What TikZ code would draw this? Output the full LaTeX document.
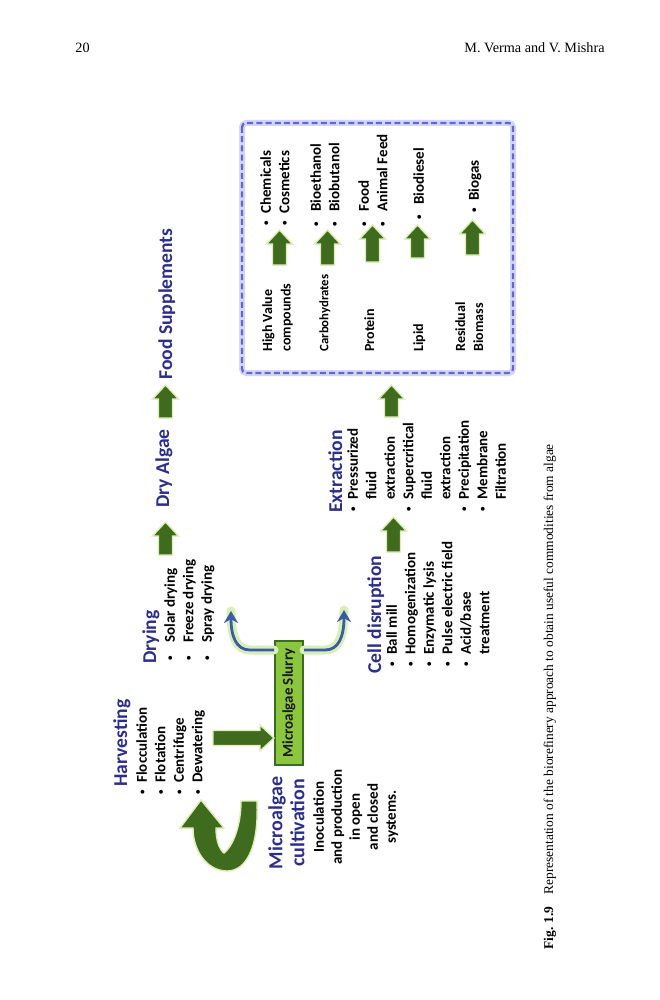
\documentclass[tikz,border=0pt]{standalone}
\usepackage{fontspec}
\setmainfont{Carlito}
\newfontfamily\capfont{Liberation Serif}
\usetikzlibrary{calc,arrows.meta}

\definecolor{headblue}{HTML}{2B2E8C}
\definecolor{agreen}{HTML}{3F6B1F}
\definecolor{aglow}{HTML}{DDEFB5}
\definecolor{slurryfill}{HTML}{8CC63F}
\definecolor{slurryline}{HTML}{3A6B1E}
\definecolor{curveblue}{HTML}{3B5BA5}
\definecolor{curveglow}{HTML}{D8EFB8}
\definecolor{boxblue}{HTML}{6464DC}
\definecolor{boxglow}{HTML}{D3D7F7}

\tikzset{
  heading/.style={rotate=90, anchor=north west, inner sep=0pt, text=headblue,
    font=\fontsize{9.8}{11.5}\selectfont\bfseries, align=left},
  items/.style={rotate=90, anchor=north west, inner sep=0pt, text=black,
    font=\fontsize{7.5}{9.25}\selectfont\bfseries, align=left},
  cat/.style={rotate=90, anchor=north west, inner sep=0pt, text=black,
    font=\fontsize{7.0}{9.25}\selectfont\bfseries, align=left},
  garrow/.style={fill=agreen, draw=aglow, line width=0.7pt},
  curveglowline/.style={draw=curveglow, line width=4.5pt, line cap=round},
  curveline/.style={draw=curveblue, line width=1.4pt, -{Stealth[length=6pt,width=7pt]}},
  slurrybox/.style={rotate=90, draw=slurryline, fill=slurryfill, line width=1pt,
    minimum width=62pt, minimum height=14pt, inner sep=0pt,
    font=\fontsize{7.5}{9}\selectfont\bfseries, text=black!90},
  capstyle/.style={inner sep=0pt, font=\capfont\fontsize{7.1}{8.5}\selectfont}
}

\newcommand{\dotb}{\raisebox{0.13em}{\fontsize{4.5}{5}\selectfont\textbullet}}
\newcommand{\bl}{\makebox[0.8em][l]{\dotb}}
\newcommand{\blw}{\makebox[1.2em][l]{\dotb}}
\newcommand{\bk}{\makebox[1.0em][l]{\dotb}}
\newcommand{\bw}{\hspace*{0.8em}}
\newcommand{\uparr}[3]{%
  \path[garrow] ({#1-7},{#3}) -- ({#1-7},{#2+14}) -- ({#1-13},{#2+14}) -- ({#1},{#2})
     -- ({#1+13},{#2+14}) -- ({#1+7},{#2+14}) -- ({#1+7},{#3}) -- cycle;}

\begin{document}
\begin{tikzpicture}[x=0.5pt,y=-0.5pt]
\useasboundingbox (0,0) rectangle (659,1000);
\fill[white] (0,0) rectangle (659,1000);

% page header
\node[capstyle, anchor=base west] (pg) at (75,53) {20};
\node[capstyle, anchor=base east] (auth) at (605,53) {M. Verma and V. Mishra};

% caption
\node[capstyle, rotate=90, anchor=base west, font=\capfont\fontsize{6.7}{8}\selectfont] (cap) at (553,950)
  {\textbf{Fig. 1.9}\hspace{0.9em}Representation of the biorefinery approach to obtain useful commodities from algae};

% headings and lists
\node[heading] (harv) at (113,787) {Harvesting};
\node[items] (harvl) at (136,795) {\bl Flocculation\\\bl Flotation\\\bl Centrifuge\\\bl Dewatering};

\node[heading] (dry) at (142,664) {Drying};
\node[items] (dryl) at (164,661) {\blw Solar drying\\\blw Freeze drying\\\blw Spray drying};

\node[heading] (dalg) at (155,508) {Dry Algae};
\node[heading] (food) at (158,380) {Food Supplements};

\node[heading] (cell) at (367,674) {Cell disruption};
\node[items] (celll) at (386,667) {\bl Ball mill\\\bl Homogenization\\\bl Enzymatic lysis\\\bl Pulse electric field\\\bl Acid/base\\\bw treatment};

\node[heading] (ext) at (328,513) {Extraction};
\node[items] (extl) at (347,512) {\bl Pressurized\\\bw fluid\\\bw extraction\\\bl Supercritical\\\bw fluid\\\bw extraction\\\bl Precipitation\\\bl Membrane\\\bw Filtration};

\node[rotate=90, anchor=north, inner sep=0pt, text=headblue, font=\fontsize{10}{11}\selectfont\bfseries, align=center] (micro) at (268,823) {Microalgae\\cultivation};
\node[rotate=90, anchor=north, inner sep=0pt, font=\fontsize{7.5}{9}\selectfont\bfseries, align=center] (microl) at (313,817) {Inoculation\\and production\\in open\\and closed\\systems.};

% slurry box
\node[slurrybox] (slurry) at (289,703) {Microalgae Slurry};

% harvesting -> slurry arrow
\path[garrow] (213,730.5) -- (260,730.5) -- (260,725) -- (274,738) -- (260,751) -- (260,745.5) -- (213,745.5) -- cycle;

% U-shaped cultivation arrow
\path[garrow] (257,801) .. controls (259,848) and (246,871) .. (227,871)
   .. controls (208,871) and (193,852) .. (193,828) -- (180,828) -- (201,800) -- (224,828) -- (216,828)
   .. controls (216,840) and (219,849) .. (224,853)
   .. controls (233,846) and (241,826) .. (241,801) -- cycle;

% blue curved arrows from slurry
\coordinate (tipL) at (231,611);
\coordinate (tipR) at (344,610);
\draw[curveglowline] ([yshift=-5pt]slurry.north east) -- (250,650) .. controls (236,650) and (231,636) .. (tipL);
\draw[curveglowline] ([yshift=-5pt]slurry.south east) -- (325,650) .. controls (339,650) and (344,636) .. (tipR);
\draw[curveline] ([yshift=-5pt]slurry.north east) -- (250,650) .. controls (236,650) and (231,636) .. (tipL);
\draw[curveline] ([yshift=-5pt]slurry.south east) -- (325,650) .. controls (339,650) and (344,636) .. (tipR);

% main green arrows
\uparr{165.5}{522}{555}
\uparr{165.5}{385}{418}
\uparr{393.5}{517}{552}
\uparr{391.5}{385}{417}

% products box
\draw[boxglow, line width=3pt, rounded corners=2pt] (242,123) rectangle (513,373);
\draw[boxblue, line width=1.1pt, dash pattern=on 3pt off 1.6pt, rounded corners=2pt] (242,123) rectangle (513,373);

\node[cat] (hv) at (262,352) {High Value\\compounds};
\node[cat, font=\fontsize{6.4}{8}\selectfont\bfseries] (carb) at (319,352) {Carbohydrates};
\node[cat] (prot) at (364,352) {Protein};
\node[cat] (lip) at (413,352) {Lipid};
\node[cat, font=\fontsize{7.0}{9}\selectfont\bfseries] (res) at (455,352) {Residual\\Biomass};

\uparr{279.5}{230}{265}
\uparr{327.5}{230}{265}
\uparr{372.5}{225}{262}
\uparr{417.5}{225}{258}
\uparr{472.5}{220}{255}

\node[items] (p1) at (260,226) {\bl Chemicals\\\bl Cosmetics};
\node[items] (p2) at (310,227) {\bk Bioethanol\\\bk Biobutanol};
\node[items] (p3) at (358,227) {\bk Food\\\bk Animal Feed};
\node[items] (p4) at (413,220) {\bk Biodiesel};
\node[items] (p5) at (468,213) {\bl Biogas};
\end{tikzpicture}
\end{document}
